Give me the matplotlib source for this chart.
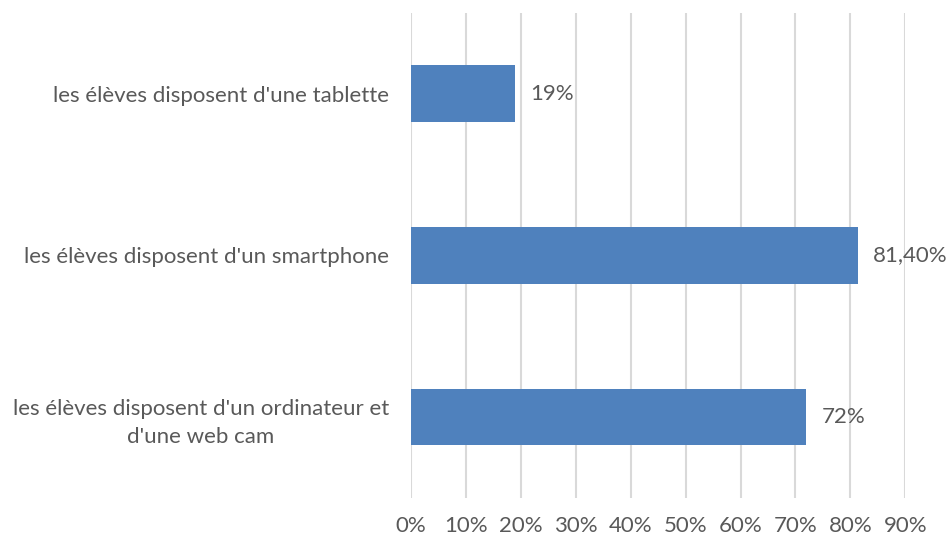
import matplotlib.pyplot as plt

plt.rcParams['font.family'] = ['Lato', 'DejaVu Sans']

# data
categories = ["les élèves disposent d'un ordinateur et\nd'une web cam",
              "les élèves disposent d'un smartphone",
              "les élèves disposent d'une tablette"]
values = [0.72, 0.814, 0.19]
value_labels = ["72%", "81,40%", "19%"]
ticks = [0, 0.1, 0.2, 0.3, 0.4, 0.5, 0.6, 0.7, 0.8, 0.9]
tick_labels = ["0%", "10%", "20%", "30%", "40%", "50%", "60%", "70%", "80%", "90%"]

text_color = "#595959"
fs = 16

fig = plt.figure(figsize=(9.47, 5.39), dpi=100)
ax = fig.add_axes([0.434, 0.076, 0.522, 0.9])

bars = ax.barh(range(len(categories)), values, height=0.35, color="#4F81BD", zorder=3)

for bar, lab in zip(bars, value_labels):
    ax.annotate(lab, (bar.get_width(), bar.get_y() + bar.get_height() / 2),
                xytext=(11, 0), textcoords="offset points",
                va="center", ha="left", fontsize=fs, color=text_color)

ax.set_xlim(0, 0.9)
ax.set_ylim(-0.5, 2.5)
ax.set_xticks(ticks)
ax.set_xticklabels(tick_labels, fontsize=fs, color=text_color)
ax.set_yticks(range(len(categories)))
ax.set_yticklabels(categories, fontsize=fs, color=text_color, linespacing=1.5,
                   multialignment="center")

ax.grid(axis="x", color="#D9D9D9", linewidth=1.5, zorder=0)
ax.tick_params(axis="both", length=0)
ax.tick_params(axis="x", pad=13)
ax.tick_params(axis="y", pad=16)
for s in ax.spines.values():
    s.set_visible(False)

fig.savefig("out.png", dpi=100)
